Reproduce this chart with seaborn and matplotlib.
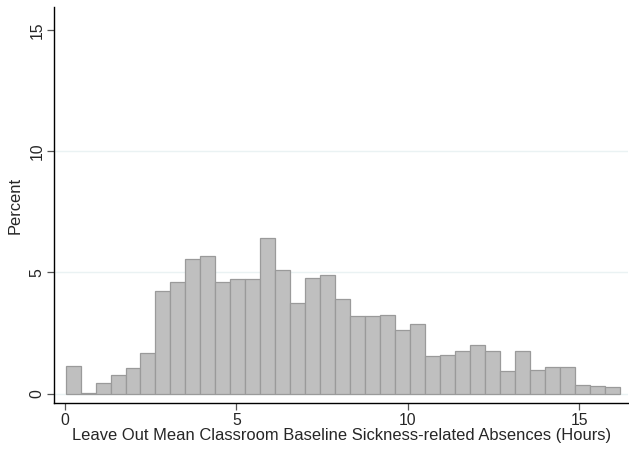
import numpy as np
import pandas as pd
import seaborn as sns
import matplotlib.pyplot as plt

# histogram bins (Stata style, 37 bins)
x_min = 0.02
x_max = 16.18
n_bins = 37
percent = [1.14, 0.03, 0.44, 0.78, 1.07, 1.69, 4.23, 4.62, 5.57, 5.69,
           4.62, 4.73, 4.73, 6.43, 5.11, 3.75, 4.77, 4.89, 3.90, 3.20,
           3.20, 3.26, 2.61, 2.87, 1.57, 1.61, 1.77, 2.02, 1.77, 0.95,
           1.77, 0.99, 1.11, 1.11, 0.37, 0.33, 0.29]
x_ticks = [0, 5, 10, 15]
y_ticks = [0, 5, 10, 15]
x_label = 'Leave Out Mean Classroom Baseline Sickness-related Absences (Hours)'
y_label = 'Percent'

bin_w = (x_max - x_min) / n_bins
centers = x_min + bin_w * (np.arange(n_bins) + 0.5)
df = pd.DataFrame({'absences': centers, 'percent': percent})

sns.set_style('white')
plt.rcParams['font.family'] = ['Liberation Sans', 'DejaVu Sans']

fig = plt.figure(figsize=(6.29, 4.5), dpi=100)
ax = fig.add_axes([0.0863, 0.1038, 0.9117, 0.8812])

# light grid lines behind the bars (Stata draws none at the top tick)
for yv in y_ticks[:-1]:
    ax.axhline(yv, color='#eaf2f3', lw=1.0, zorder=0)

sns.histplot(data=df, x='absences', weights='percent',
             binwidth=bin_w, binrange=(x_min, x_max),
             stat='count', color='#bfbfbf', edgecolor='#9a9a9a',
             linewidth=0.9, alpha=1.0, ax=ax, zorder=2)

ax.set_xlim(-0.31, 16.41)
ax.set_ylim(-0.4, 15.96)
ax.set_xticks(x_ticks)
ax.set_yticks(y_ticks)
ax.set_xticklabels([str(t) for t in x_ticks], fontsize=11.3)
ax.set_yticklabels([str(t) for t in y_ticks], fontsize=11.3, rotation=90, va='center')
ax.tick_params(axis='both', length=5, width=0.9, color='#555555', pad=2, bottom=True, left=True)
ax.set_xlabel(x_label, fontsize=11.9, labelpad=0)
ax.set_ylabel(y_label, fontsize=11.9, labelpad=5)

for side in ['top', 'right']:
    ax.spines[side].set_visible(False)
for side in ['left', 'bottom']:
    ax.spines[side].set_color('black')
    ax.spines[side].set_linewidth(1.0)

fig.savefig('out.png', dpi=100)
